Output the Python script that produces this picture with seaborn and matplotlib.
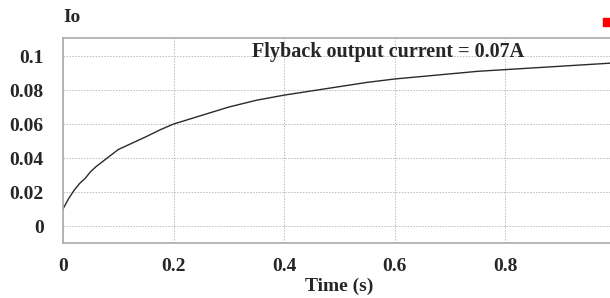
import matplotlib
matplotlib.use("Agg")
import numpy as np
import pandas as pd
import seaborn as sns
from matplotlib import pyplot as plt
from matplotlib.patches import Rectangle

# values
time_s = [0.0, 0.005, 0.01, 0.02, 0.03, 0.04, 0.05, 0.06, 0.07, 0.08, 0.09,
          0.10, 0.12, 0.15, 0.175, 0.20, 0.225, 0.25, 0.275, 0.30, 0.35,
          0.40, 0.45, 0.50, 0.55, 0.60, 0.65, 0.70, 0.75, 0.80, 0.85, 0.90,
          0.95, 1.00]
io_amp = [0.010, 0.013, 0.016, 0.021, 0.025, 0.028, 0.032, 0.035, 0.0375,
          0.040, 0.0425, 0.045, 0.048, 0.0525, 0.0565, 0.060, 0.0625, 0.065,
          0.0675, 0.070, 0.074, 0.077, 0.0795, 0.082, 0.0845, 0.0865, 0.088,
          0.0895, 0.091, 0.092, 0.093, 0.094, 0.095, 0.096]
x_ticks = [0, 0.2, 0.4, 0.6, 0.8, 1]
x_labels = ["0", "0.2", "0.4", "0.6", "0.8", "1"]
y_ticks = [0, 0.02, 0.04, 0.06, 0.08, 0.1]
y_labels = ["0", "0.02", "0.04", "0.06", "0.08", "0.1"]

sns.set_style("whitegrid")
plt.rcParams['font.family'] = ['Liberation Serif', 'DejaVu Serif']
plt.rcParams['font.weight'] = 'bold'

df = pd.DataFrame({"t": time_s, "io": io_amp})

fig = plt.figure(figsize=(6.1, 2.98), dpi=100)
ax = fig.add_axes([63 / 610, 55 / 298, 553 / 610, 205 / 298])

sns.lineplot(data=df, x="t", y="io", ax=ax, color="#2a2a2a", linewidth=1.0)

ax.set_xlim(0, 1)
ax.set_ylim(-0.01, 0.1106)
ax.set_xticks(x_ticks)
ax.set_xticklabels(x_labels, fontsize=14, fontweight='bold')
ax.set_yticks(y_ticks)
ax.set_yticklabels(y_labels, fontsize=14, fontweight='bold')
ax.tick_params(axis='y', length=0, pad=14)
ax.tick_params(axis='x', length=0, pad=11)

ax.grid(True, color="#bbbbbb", linestyle=(0, (1.5, 1.5)), linewidth=0.7)
for side in ["left", "bottom", "top"]:
    ax.spines[side].set_color("#aaaaaa")
    ax.spines[side].set_linewidth(1.2)
ax.spines["right"].set_visible(False)

ax.set_xlabel("Time (s)", fontsize=14, fontweight='bold', labelpad=2)
ax.set_ylabel("")
fig.text(63 / 610, 1 - 17 / 298, "Io", fontsize=14, fontweight='bold',
         ha='left', va='center')
ax.text(0.587, 0.0994, "Flyback output current = 0.07A", fontsize=14.5,
        fontweight='bold', ha='center', va='baseline')

fig.add_artist(Rectangle((603 / 610, 1 - 26 / 298), 8 / 610, 8 / 298,
                         transform=fig.transFigure, color="red"))

fig.savefig("out.png", dpi=100)
